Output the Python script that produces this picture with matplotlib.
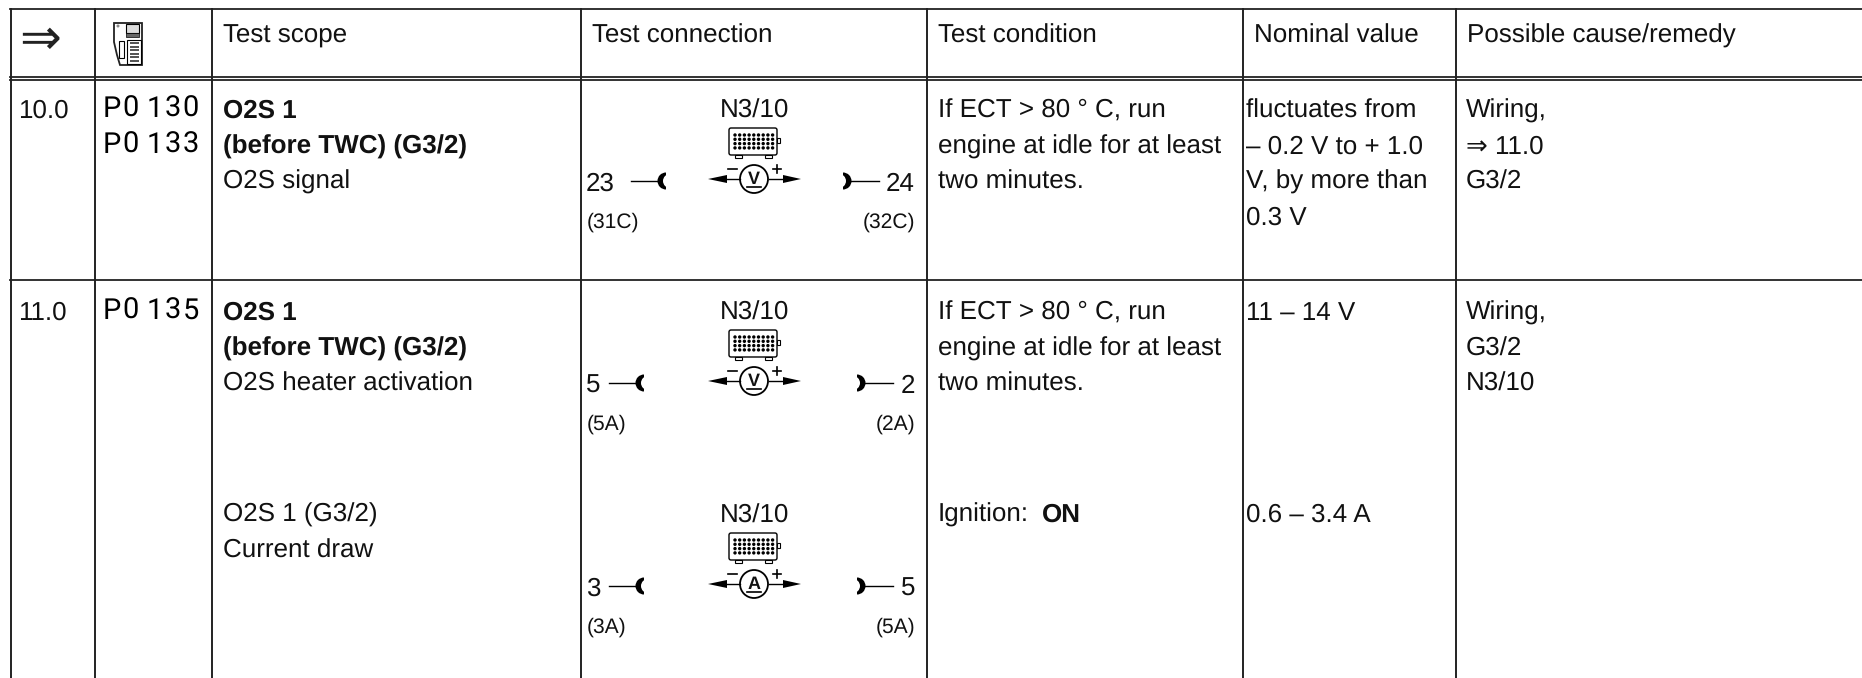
#!/usr/bin/env python3

import matplotlib
matplotlib.use('Agg')
import matplotlib.pyplot as plt
from matplotlib.patches import Circle, FancyBboxPatch, Polygon, Rectangle, Wedge

W, H = 1862, 678
BODY = ['Liberation Sans', 'DejaVu Sans']
SIZE = 18.6

plt.rcParams['text.hinting'] = 'none'
plt.rcParams['text.hinting_factor'] = 1

col_x = [11, 95, 212, 581, 927, 1243, 1456]
headers = ['Test scope', 'Test connection', 'Test condition', 'Nominal value', 'Possible cause/remedy']
row_y = [280]

row_ids = [('10.0', 118), ('11.0', 320)]
fault_codes = [('P0', '130', 117), ('P0', '133', 153), ('P0', '135', 319)]
code_x = [112, 131, 155, 173, 191]

scope_text = [('O2S 1', 118, True), ('(before TWC) (G3/2)', 154, True), ('O2S signal', 189, False),
              ('O2S 1', 320, True), ('(before TWC) (G3/2)', 356, True), ('O2S heater activation', 391, False),
              ('O2S 1 (G3/2)', 522, False), ('Current draw', 558, False)]
condition_text = [('If ECT > 80 ° C, run', 118), ('engine at idle for at least', 154), ('two minutes.', 189),
                  ('If ECT > 80 ° C, run', 320), ('engine at idle for at least', 356), ('two minutes.', 391),
                  ('Ignition:', 522)]
nominal_text = [('fluctuates from', 118), ('– 0.2 V to + 1.0', 154), ('V, by more than', 189), ('0.3 V', 225),
                ('11 – 14 V', 320), ('0.6 – 3.4 A', 522)]
remedy_text = [('Wiring,', 118), ('⇒ 11.0', 154), ('G3/2', 189),
               ('Wiring,', 320), ('G3/2', 356), ('N3/10', 391)]

# dy, meter, left pin, right pin, left sub, right sub, left wire start, right wire end
connections = [(0, 'V', '23', '24', '(31C)', '(32C)', 631, 879),
               (202, 'V', '5', '2', '(5A)', '(2A)', 609, 893),
               (405, 'A', '3', '5', '(3A)', '(5A)', 609, 893)]


def text(ax, x, y, s, size=SIZE, bold=False, ha='left'):
    ax.text(x, y, s, fontsize=size, family=BODY, fontweight='bold' if bold else 'normal',
            ha=ha, va='baseline', color='#111111')


def crescent(ax, x, y, facing):
    theta = (90, 270) if facing == 'left' else (-90, 90)
    ax.add_patch(Wedge((x, y), 8.5, theta[0], theta[1], fc='black', ec='none'))
    offset = 4 if facing == 'left' else -4
    ax.add_patch(Wedge((x + offset, y), 7, theta[0], theta[1], fc='white', ec='none'))


def draw_connection(ax, dy, meter, lpin, rpin, lsub, rsub, lwire, rwire):
    cx = 755
    text(ax, cx, 118 + dy, 'N3/10', ha='center')
    ax.add_patch(FancyBboxPatch((729, 128 + dy), 48, 27, boxstyle='round,pad=0,rounding_size=2',
                                fc='white', ec='black', lw=1))
    for foot in (735, 765):
        ax.add_patch(Rectangle((foot, 155 + dy), 7, 3, fc='white', ec='black', lw=0.8))
    ax.add_patch(Rectangle((777, 138 + dy), 3, 5, fc='white', ec='black', lw=0.8))
    for i in range(9):
        for j in range(4):
            ax.add_patch(Circle((735 + i * 4.7, 135 + dy + j * 4.3), 1.7, fc='black', ec='none'))

    y = 179 + dy
    ax.plot([725, 740], [y, y], color='black', lw=1)
    ax.plot([769, 785], [y, y], color='black', lw=1)
    ax.add_patch(Polygon([[708, y], [727, y - 4], [727, y + 4]], fc='black', ec='none'))
    ax.add_patch(Polygon([[801, y], [783, y - 4], [783, y + 4]], fc='black', ec='none'))
    ax.add_patch(Circle((754, y), 14, fc='white', ec='black', lw=1.3))
    text(ax, 754, y + 5, meter, size=13, bold=True, ha='center')
    ax.plot([747, 761], [y + 8, y + 8], color='black', lw=1.2)
    ax.plot([728, 737], [y - 10, y - 10], color='black', lw=1.2)
    ax.plot([773, 781], [y - 10, y - 10], color='black', lw=1.2)
    ax.plot([777, 777], [y - 14, y - 6], color='black', lw=1.2)

    wire_y = 181 + dy
    ax.plot([lwire, lwire + 27], [wire_y, wire_y], color='black', lw=1)
    crescent(ax, lwire + 35, wire_y, 'left')
    ax.plot([rwire - 28, rwire], [wire_y, wire_y], color='black', lw=1)
    crescent(ax, rwire - 36, wire_y, 'right')
    text(ax, 586, 191 + dy, lpin)
    text(ax, 915, 191 + dy, rpin, ha='right')
    text(ax, 587, 228 + dy, lsub, size=15)
    text(ax, 915, 228 + dy, rsub, size=15, ha='right')


def draw_tester(ax):
    ax.add_patch(Polygon([[114, 23], [142, 23], [142, 65], [120, 65], [117, 55], [114, 42]],
                         fc='white', ec='#222222', lw=1.3))
    ax.add_patch(Rectangle((126, 24), 13, 9, fc='#dddddd', ec='black', lw=0.8))
    ax.add_patch(Rectangle((126, 33), 13, 4, fc='#666666', ec='black', lw=0.5))
    ax.add_patch(Circle((118, 26), 1.5, fc='#888888', ec='none'))
    ax.add_patch(Rectangle((119, 41), 5, 17, fc='white', ec='black', lw=0.8))
    ax.add_patch(Rectangle((127, 40), 14, 24, fc='white', ec='black', lw=0.8))
    for j in range(6):
        ax.add_patch(Rectangle((130, 42 + j * 3.5), 9, 2, fc='#555555', ec='none'))


def main():
    fig = plt.figure(figsize=(W / 100, H / 100), dpi=100)
    ax = fig.add_axes([0, 0, 1, 1])
    ax.set_xlim(0, W)
    ax.set_ylim(H, 0)
    ax.axis('off')

    for y in [9, 77, 80] + row_y:
        ax.plot([10, W], [y, y], color='#222222', lw=1.3)
    for x in col_x:
        ax.plot([x, x], [9, H], color='#222222', lw=1.4)

    ax.text(19, 54, '⇒', fontsize=36, family='DejaVu Sans', ha='left', va='baseline', color='#222222')
    draw_tester(ax)

    for x, s in zip(col_x[2:], headers):
        text(ax, x + 11, 43, s)
    for s, y in row_ids:
        text(ax, 18, y, s)
    for left, right, y in fault_codes:
        for x, ch in zip(code_x, left + right):
            ax.text(x, y, ch, fontsize=21, family=['Roboto', 'Liberation Sans'],
                    ha='center', va='baseline', color='black')
    for s, y, bold in scope_text:
        text(ax, 223, y, s, bold=bold)
    for s, y in condition_text:
        text(ax, 938, y, s)
    text(ax, 1042, 522, 'ON', bold=True)
    for s, y in nominal_text:
        text(ax, 1246, y, s)
    for s, y in remedy_text:
        text(ax, 1466, y, s)
    for conn in connections:
        draw_connection(ax, *conn)

    fig.savefig('out.png', dpi=100)


if __name__ == '__main__':
    main()
